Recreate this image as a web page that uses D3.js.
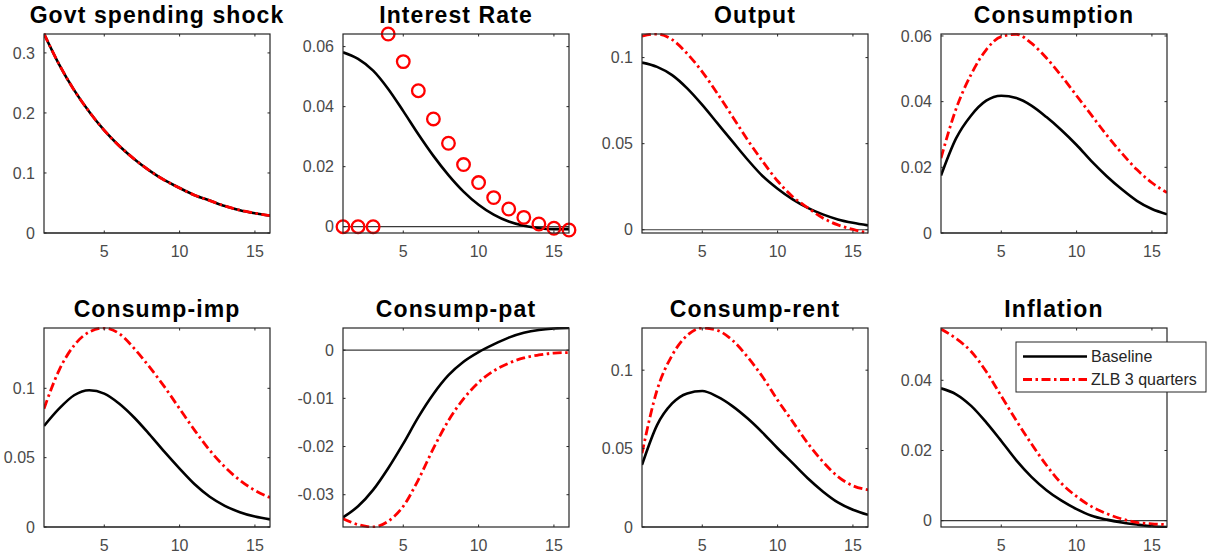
<!DOCTYPE html>
<html>
<head>
<meta charset="utf-8">
<script src="https://cdn.jsdelivr.net/npm/d3@7/dist/d3.min.js"></script>
<style>
  html, body { margin: 0; padding: 0; background: #fff; }
  svg { display: block; font-family: "Liberation Sans", Arial, Helvetica, sans-serif; }
</style>
</head>
<body>
<svg id="chart" width="1209" height="557"></svg>
<script>
// Impulse responses to a government spending shock, quarters 1..16
const quarters = [1, 2, 3, 4, 5, 6, 7, 8, 9, 10, 11, 12, 13, 14, 15, 16];

const govBase = [0.332, 0.281, 0.238, 0.202, 0.171, 0.145, 0.123, 0.104, 0.088, 0.075, 0.063, 0.054, 0.045, 0.038, 0.033, 0.029];
const govZlb  = [0.332, 0.281, 0.238, 0.202, 0.171, 0.145, 0.123, 0.104, 0.088, 0.075, 0.063, 0.054, 0.045, 0.038, 0.033, 0.029];

const rateBase = [0.0581, 0.0559, 0.0520, 0.0459, 0.0385, 0.0308, 0.0236, 0.0172, 0.0117, 0.0073, 0.0040, 0.0017, 0.0003, -0.0005, -0.0008, -0.0008];
const rateZlb  = [0, 0, 0, 0.0642, 0.0550, 0.0453, 0.0359, 0.0278, 0.0207, 0.0147, 0.0097, 0.0059, 0.0031, 0.0009, -0.0005, -0.0011];

const outputBase = [0.0971, 0.0946, 0.0898, 0.0821, 0.0725, 0.0619, 0.0513, 0.0408, 0.0312, 0.0238, 0.0176, 0.0127, 0.0089, 0.0060, 0.0040, 0.0025];
const outputZlb  = [0.1125, 0.1137, 0.1104, 0.1023, 0.0917, 0.0792, 0.0658, 0.0523, 0.0398, 0.0283, 0.0192, 0.0128, 0.0068, 0.0028, 0.0002, -0.0019];

const consBase = [0.0175, 0.0288, 0.0358, 0.0403, 0.0418, 0.0411, 0.0388, 0.0353, 0.0313, 0.0268, 0.0218, 0.0173, 0.0133, 0.0098, 0.0073, 0.0057];
const consZlb  = [0.0228, 0.0378, 0.0483, 0.0558, 0.0598, 0.0605, 0.0578, 0.0533, 0.0478, 0.0418, 0.0358, 0.0298, 0.0243, 0.0193, 0.0153, 0.0123];

const impBase = [0.0728, 0.0853, 0.0950, 0.0986, 0.0962, 0.0889, 0.0788, 0.0668, 0.0541, 0.0421, 0.0308, 0.0218, 0.0153, 0.0107, 0.0075, 0.0055];
const impZlb  = [0.0853, 0.1130, 0.1310, 0.1406, 0.1435, 0.1394, 0.1286, 0.1154, 0.1010, 0.0853, 0.0697, 0.0553, 0.0433, 0.0337, 0.0264, 0.0212];

const patBase = [-0.0347, -0.0324, -0.0290, -0.0245, -0.0194, -0.0139, -0.0091, -0.0052, -0.0024, -0.0004, 0.0012, 0.0026, 0.0036, 0.0042, 0.0045, 0.0046];
const patZlb  = [-0.0350, -0.0362, -0.0367, -0.0355, -0.0324, -0.0269, -0.0204, -0.0146, -0.0101, -0.0067, -0.0043, -0.0027, -0.0016, -0.0010, -0.0006, -0.0005];

const rentBase = [0.0396, 0.0650, 0.0788, 0.0852, 0.0867, 0.0831, 0.0771, 0.0693, 0.0602, 0.0502, 0.0407, 0.0311, 0.0227, 0.0157, 0.0110, 0.0078];
const rentZlb  = [0.0470, 0.0873, 0.1095, 0.1222, 0.1269, 0.1254, 0.1191, 0.1085, 0.0958, 0.0809, 0.0672, 0.0534, 0.0417, 0.0322, 0.0263, 0.0237];

const inflBase = [0.0377, 0.0360, 0.0327, 0.0280, 0.0227, 0.0172, 0.0125, 0.0087, 0.0057, 0.0033, 0.0014, 0.0003, -0.0005, -0.0011, -0.0016, -0.0018];
const inflZlb  = [0.0546, 0.0519, 0.0482, 0.0425, 0.0355, 0.0285, 0.0219, 0.0158, 0.0106, 0.0069, 0.0040, 0.0020, 0.0005, -0.0005, -0.0009, -0.0011];

const titles = ["Govt spending shock", "Interest Rate", "Output", "Consumption",
                "Consump-imp", "Consump-pat", "Consump-rent", "Inflation"];
const baseSeries = [govBase, rateBase, outputBase, consBase, impBase, patBase, rentBase, inflBase];
const zlbSeries  = [govZlb, rateZlb, outputZlb, consZlb, impZlb, patZlb, rentZlb, inflZlb];

// Axis limits (tight) and tick labels for each panel
const yLimits = [[0, 0.3315], [-0.0021, 0.0642], [-0.0019, 0.1137], [0, 0.0606],
                 [0, 0.1435], [-0.0367, 0.0046], [0, 0.1269], [-0.0018, 0.0549]];
const yTicks = [[0, 0.1, 0.2, 0.3], [0, 0.02, 0.04, 0.06], [0, 0.05, 0.1], [0, 0.02, 0.04, 0.06],
                [0, 0.05, 0.1], [-0.03, -0.02, -0.01, 0], [0, 0.05, 0.1], [0, 0.02, 0.04]];
const xTicks = [5, 10, 15];
const legendLabels = ["Baseline", "ZLB 3 quarters"];

// Layout
const colLeft = [44, 343, 642, 941];
const rowTop = [34, 328];
const plotW = 226, plotH = 199;
const RED = "#ff0000", AXIS = "#262626", LABEL = "#4a4a4a";
const DASHDOT = "9,3.5,2.5,3.5";

const svg = d3.select("#chart");

titles.forEach((title, i) => {
  const left = colLeft[i % 4], top = rowTop[Math.floor(i / 4)];
  const g = svg.append("g").attr("transform", `translate(${left},${top})`);

  const x = d3.scaleLinear().domain([1, 16]).range([0, plotW]);
  const y = d3.scaleLinear().domain(yLimits[i]).range([plotH, 0]);

  const clipId = "clip" + i;
  g.append("clipPath").attr("id", clipId)
    .append("rect").attr("x", 0).attr("y", -1).attr("width", plotW).attr("height", plotH + 2);

  // Zero reference line
  g.append("line")
    .attr("x1", x(1)).attr("x2", x(16))
    .attr("y1", y(0)).attr("y2", y(0))
    .attr("stroke", "#3a3a3a").attr("stroke-width", 1.2);

  const line = d3.line()
    .x((d, k) => x(quarters[k]))
    .y(d => y(d))
    .curve(d3.curveMonotoneX);

  const plotArea = g.append("g").attr("clip-path", `url(#${clipId})`);

  plotArea.append("path")
    .datum(baseSeries[i])
    .attr("d", line)
    .attr("fill", "none")
    .attr("stroke", "#000")
    .attr("stroke-width", 2.6)
    .attr("stroke-linejoin", "round");

  if (i === 1) {
    // Policy rate under the ZLB shown with circle markers
    g.append("g").selectAll("circle")
      .data(zlbSeries[i])
      .join("circle")
      .attr("cx", (d, k) => x(quarters[k]))
      .attr("cy", d => y(d))
      .attr("r", 6.3)
      .attr("fill", "none")
      .attr("stroke", RED)
      .attr("stroke-width", 2.3);
  } else {
    plotArea.append("path")
      .datum(zlbSeries[i])
      .attr("d", line)
      .attr("fill", "none")
      .attr("stroke", RED)
      .attr("stroke-width", 2.8)
      .attr("stroke-dasharray", DASHDOT);
  }

  // Axes box with inward ticks on all sides
  const axisG = g.append("g");
  axisG.append("rect")
    .attr("x", 0).attr("y", 0).attr("width", plotW).attr("height", plotH)
    .attr("fill", "none").attr("stroke", AXIS).attr("stroke-width", 1.2);

  const tickLen = 2.5;
  xTicks.forEach(t => {
    axisG.append("line").attr("x1", x(t)).attr("x2", x(t)).attr("y1", plotH).attr("y2", plotH - tickLen)
      .attr("stroke", AXIS).attr("stroke-width", 1);
    axisG.append("line").attr("x1", x(t)).attr("x2", x(t)).attr("y1", 0).attr("y2", tickLen)
      .attr("stroke", AXIS).attr("stroke-width", 1);
  });
  yTicks[i].forEach(t => {
    axisG.append("line").attr("x1", 0).attr("x2", tickLen).attr("y1", y(t)).attr("y2", y(t))
      .attr("stroke", AXIS).attr("stroke-width", 1);
    axisG.append("line").attr("x1", plotW).attr("x2", plotW - tickLen).attr("y1", y(t)).attr("y2", y(t))
      .attr("stroke", AXIS).attr("stroke-width", 1);
  });

  // Tick labels
  g.append("g").selectAll("text")
    .data(xTicks)
    .join("text")
    .attr("x", d => x(d))
    .attr("y", plotH + 24)
    .attr("text-anchor", "middle")
    .attr("font-size", 16)
    .attr("fill", LABEL)
    .text(d => d);

  g.append("g").selectAll("text")
    .data(yTicks[i])
    .join("text")
    .attr("x", -9)
    .attr("y", d => y(d))
    .attr("dy", "0.36em")
    .attr("text-anchor", "end")
    .attr("font-size", 16)
    .attr("fill", LABEL)
    .text(d => String(d));

  // Panel title
  g.append("text")
    .attr("x", plotW / 2)
    .attr("y", -11)
    .attr("text-anchor", "middle")
    .attr("font-size", 23)
    .attr("font-weight", "bold")
    .attr("letter-spacing", 1.1)
    .attr("fill", "#000")
    .text(title);

  // Legend in the last panel
  if (i === 7) {
    const lg = g.append("g").attr("transform", "translate(75,14)");
    lg.append("rect").attr("x", 0).attr("y", 0).attr("width", 190).attr("height", 50)
      .attr("fill", "#fff").attr("stroke", AXIS).attr("stroke-width", 1);
    const rows = [{ label: legendLabels[0], color: "#000", dash: null, w: 2.6 },
                  { label: legendLabels[1], color: RED, dash: DASHDOT, w: 2.8 }];
    rows.forEach((r, k) => {
      const yy = 14.5 + k * 23;
      lg.append("line").attr("x1", 7).attr("x2", 71).attr("y1", yy).attr("y2", yy)
        .attr("stroke", r.color).attr("stroke-width", r.w)
        .attr("stroke-dasharray", r.dash);
      lg.append("text").attr("x", 75).attr("y", yy).attr("dy", "0.36em")
        .attr("font-size", 16).attr("fill", AXIS).text(r.label);
    });
  }
});
</script>
</body>
</html>
